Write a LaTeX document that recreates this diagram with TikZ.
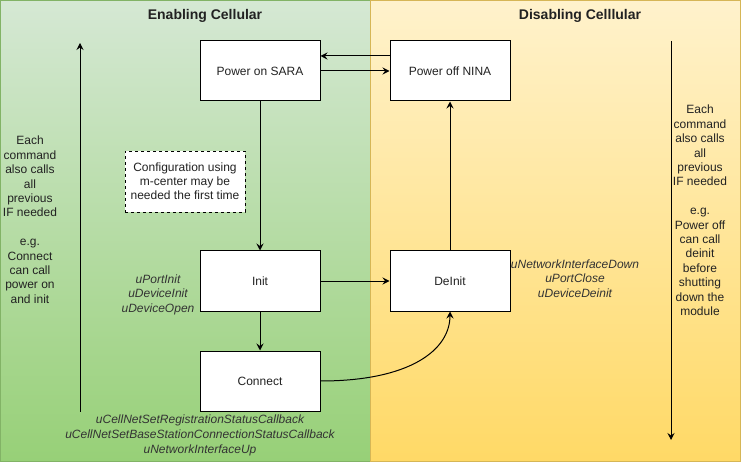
\documentclass[tikz,border=0pt]{standalone}
\usepackage{fontspec}
\setmainfont{Liberation Sans}
\usetikzlibrary{arrows.meta,calc}
\definecolor{gtop}{HTML}{D5E8D4}
\definecolor{gbot}{HTML}{97D077}
\definecolor{gline}{HTML}{82B366}
\definecolor{ytop}{HTML}{FFF2CC}
\definecolor{ybot}{HTML}{FFD966}
\definecolor{yline}{HTML}{D6B656}
\definecolor{txt}{HTML}{222222}
\definecolor{itxt}{HTML}{333333}
\tikzset{
  box/.style={draw=black, fill=white, line width=1pt, minimum width=120pt, minimum height=60pt, inner sep=0pt, font=\fontsize{12}{14.4}\selectfont, text=txt},
  note/.style={draw=black, fill=white, dash pattern=on 3pt off 3pt, line width=0.8pt, minimum width=120pt, minimum height=61pt, inner sep=0pt, align=center, font=\fontsize{12}{14.2}\selectfont, text=txt},
  arr/.style={draw=black, line width=1pt, -{Stealth[length=7pt,width=7pt,inset=2.5pt]}},
  title/.style={font=\fontsize{14}{16}\selectfont\bfseries, text=txt},
  side/.style={align=center, font=\fontsize{12}{14.4}\selectfont, text=txt, inner sep=0pt},
  fn/.style={align=center, font=\fontsize{12}{14.6}\selectfont\itshape, text=itxt, inner sep=0pt}
}
\begin{document}
\begin{tikzpicture}[x=1pt,y=-1pt]
\useasboundingbox (0,0) rectangle (741,462);
% panels
\shade[top color=gtop, bottom color=gbot] (0.5,0.5) rectangle (370.5,461.5);
\draw[gline, line width=1pt] (0.5,0.5) rectangle (370.5,461.5);
\shade[top color=ytop, bottom color=ybot] (370.5,0.5) rectangle (740.5,461.5);
\draw[yline, line width=1pt] (370.5,0.5) rectangle (740.5,461.5);
\node[title] (t1) at (205,16) {Enabling Cellular};
\node[title] (t2) at (580,16) {Disabling Celllular};
% boxes
\node[box] (sara) at (260,71) {Power on SARA};
\node[box] (nina) at (450,71) {Power off NINA};
\node[box] (init) at (260,281) {Init};
\node[box] (conn) at (260,381) {Connect};
\node[box] (deinit) at (450,281) {DeInit};
\node[note] (cfg) at (185,181.5) {Configuration using\\m-center may be\\needed the first time};
% connectors
\draw[arr] ([yshift=15pt]nina.west) -- ([yshift=15pt]sara.east);
\draw[arr] (sara.east) -- (nina.west);
\draw[arr] (sara.south) -- (init.north);
\draw[arr] (init.south) -- (conn.north);
\draw[arr] (init.east) -- (deinit.west);
\draw[arr] (deinit.north) -- (nina.south);
\draw[arr] (conn.east) .. controls (410,381) and (450,350) .. (deinit.south);
% side arrows
\coordinate (la1) at (80,411.5);
\coordinate (la2) at (80,43);
\coordinate (ra1) at (671,41);
\coordinate (ra2) at (671,440);
\draw[arr] (la1) -- (la2);
\draw[arr] (ra1) -- (ra2);
% side texts
\node[side, anchor=north] (lt) at (30,136) {Each\\command\\also calls\\all\\previous\\IF needed\\[14.4pt]e.g.\\Connect\\can call\\power on\\and init};
\node[side, anchor=north] (rt) at (700,105) {Each\\command\\also calls\\all\\previous\\IF needed\\[14.4pt]e.g.\\Power off\\can call\\deinit\\before\\shutting\\down the\\module};
% function labels
\node[fn, anchor=north] (fi) at (158,274.5) {uPortInit\\uDeviceInit\\uDeviceOpen};
\node[fn, anchor=north] (fd) at (575,259.5) {uNetworkInterfaceDown\\uPortClose\\uDeviceDeinit};
\node[fn, anchor=north] (fc) at (200,415) {uCellNetSetRegistrationStatusCallback\\uCellNetSetBaseStationConnectionStatusCallback\\uNetworkInterfaceUp};
\end{tikzpicture}
\end{document}
